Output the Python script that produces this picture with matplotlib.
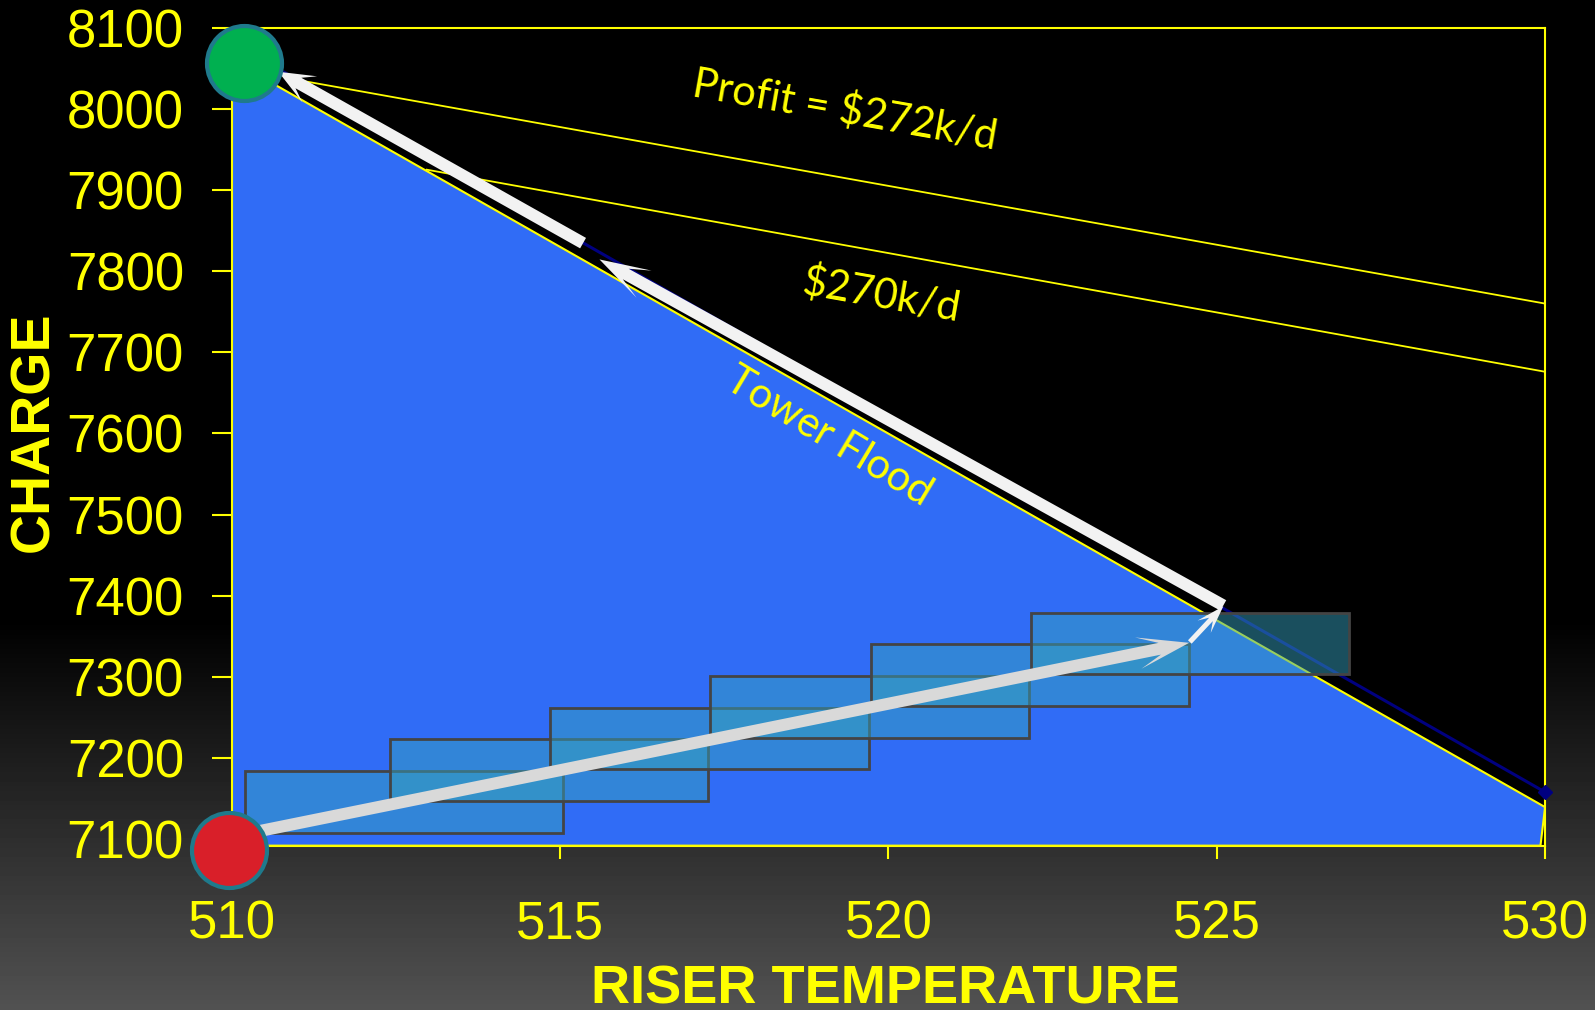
import numpy as np
import matplotlib
matplotlib.use("Agg")
import matplotlib.pyplot as plt
from matplotlib.patches import Polygon, Rectangle
from matplotlib.transforms import IdentityTransform

YELLOW = "#FFFF00"
BLUE = "#306CF6"
NAVY = "#000080"
BOX = "#349EBC"
BOX_EDGE = "#444444"
ARROW = "#F2F2F2"
ARROW2 = "#D9D9D9"
RING = "#1F7A8C"

# ---------------- data ----------------
x_ticks = [510, 515, 520, 525, 530]
y_ticks = [7100, 7200, 7300, 7400, 7500, 7600, 7700, 7800, 7900, 8000, 8100]

# feasible region under the tower flood limit
region_x = [510, 510, 530, 529.93, 510]
region_y = [7092, 8060, 7139.5, 7092, 7092]

# flood constraint (navy) and iso-profit lines
limit_x = [510.8, 530]
limit_y = [8045, 7158]
profit272_x = [511.04, 530]
profit272_y = [8035, 7760]
profit270_x = [512.97, 530]
profit270_y = [7925, 7676]

# controller steps (boxes)
box_x0 = [510.20, 512.41, 514.85, 517.29, 519.73, 522.17]
box_y0 = [7108, 7147, 7186, 7225, 7264, 7303]
box_w = 4.85
box_h = 76

# move path
path_x0 = [510.30, 524.59, 525.10, 515.35]
path_y0 = [7108, 7343, 7388, 7834.5]
path_x1 = [524.58, 525.10, 515.60, 510.71]
path_y1 = [7342, 7387, 7814.4, 8045.7]

start_pt = (509.96, 7087)
opt_pt = (510.19, 8056)

# ---------------- figure ----------------
fig = plt.figure(figsize=(15.95, 10.10), dpi=100)

bg = fig.add_axes([0, 0, 1, 1], zorder=-1)
rows = np.arange(1010)
grad = np.clip((rows - 620) / 390.0, 0, 1) * 82
bg.imshow(grad[:, None], cmap="gray", vmin=0, vmax=255, aspect="auto",
          extent=(0, 1, 0, 1))
bg.axis("off")

ax = fig.add_axes([0.1453, 0.1627, 0.8234, 0.8099])
ax.set_facecolor("black")
ax.set_xlim(510, 530)
ax.set_ylim(7092, 8100)

for s in ax.spines.values():
    s.set_color(YELLOW)
    s.set_linewidth(1.5)

ax.set_xticks(x_ticks)
ax.set_yticks(y_ticks)
ax.tick_params(axis="both", colors=YELLOW, width=1.5, labelsize=38, direction="out")
ax.tick_params(axis="y", length=14.4, pad=20)
ax.tick_params(axis="x", length=9, pad=30)
for lab in ax.get_xticklabels() + ax.get_yticklabels():
    lab.set_family("Liberation Sans")

ax.add_patch(Polygon(list(zip(region_x, region_y)), closed=True, facecolor=BLUE,
                     edgecolor=YELLOW, linewidth=1.5, zorder=2))

ax.plot(limit_x, limit_y, color=NAVY, linewidth=2.2, zorder=3)
ax.plot(limit_x[-1:], limit_y[-1:], marker="D", markersize=7, color=NAVY,
        clip_on=False, zorder=3)
ax.plot(profit272_x, profit272_y, color=YELLOW, linewidth=1.3, zorder=3)
ax.plot(profit270_x, profit270_y, color=YELLOW, linewidth=1.3, zorder=3)

for x0, y0 in zip(box_x0, box_y0):
    ax.add_patch(Rectangle((x0, y0), box_w, box_h, facecolor=BOX, alpha=0.5,
                           edgecolor="none", zorder=4))
    ax.add_patch(Rectangle((x0, y0), box_w, box_h, facecolor="none",
                           edgecolor=BOX_EDGE, linewidth=2, zorder=4))


def stealth(x0, y0, x1, y1, color, width, head_len, head_half, notch):
    t = ax.transData.transform([(x0, y0), (x1, y1)])
    d = t[1] - t[0]
    u = d / np.hypot(d[0], d[1])
    n = np.array([-u[1], u[0]])
    tip = t[1]
    base = tip - u * head_len
    neck = tip - u * (head_len - notch)
    hw = width / 2
    pts = [t[0] + n * hw, neck + n * hw, base + n * head_half, tip,
           base - n * head_half, neck - n * hw, t[0] - n * hw]
    ax.add_patch(Polygon(pts, closed=True, transform=IdentityTransform(),
                         facecolor=color, edgecolor="none", zorder=6, clip_on=False))


arrow_style = [(ARROW2, 12, 52, 16, 22), (ARROW, 5, 28, 9, 10),
               (ARROW, 12, 51, 15.5, 21), (ARROW, 12, 36, 15, 13)]
for x0, y0, x1, y1, st in zip(path_x0, path_y0, path_x1, path_y1, arrow_style):
    stealth(x0, y0, x1, y1, *st)

ax.scatter([start_pt[0]], [start_pt[1]], s=2916, color="#D91F29", edgecolors=RING,
           linewidths=3, zorder=8, clip_on=False)
ax.scatter([opt_pt[0]], [opt_pt[1]], s=2916, color="#00B050", edgecolors=RING,
           linewidths=3, zorder=8, clip_on=False)

ann = dict(color=YELLOW, fontsize=30, family="Lato", ha="center", va="center",
           rotation_mode="anchor", zorder=7)
ax.text(519.34, 7998.6, "Profit = $272k/d", rotation=-10, **ann)
ax.text(519.90, 7770.6, "$270k/d", rotation=-10, **ann)
ax.text(519.10, 7595.6, "Tower Flood", rotation=-31, **ann)

fig.text(0.0213, 0.5728, "CHARGE", rotation=90, ha="center", va="center",
         fontsize=40, fontweight="bold", color=YELLOW, family="Liberation Sans")
fig.text(0.555, 0.006, "RISER TEMPERATURE", ha="center", va="baseline",
         fontsize=39, fontweight="bold", color=YELLOW, family="Liberation Sans")

fig.savefig("out.png", dpi=100)
